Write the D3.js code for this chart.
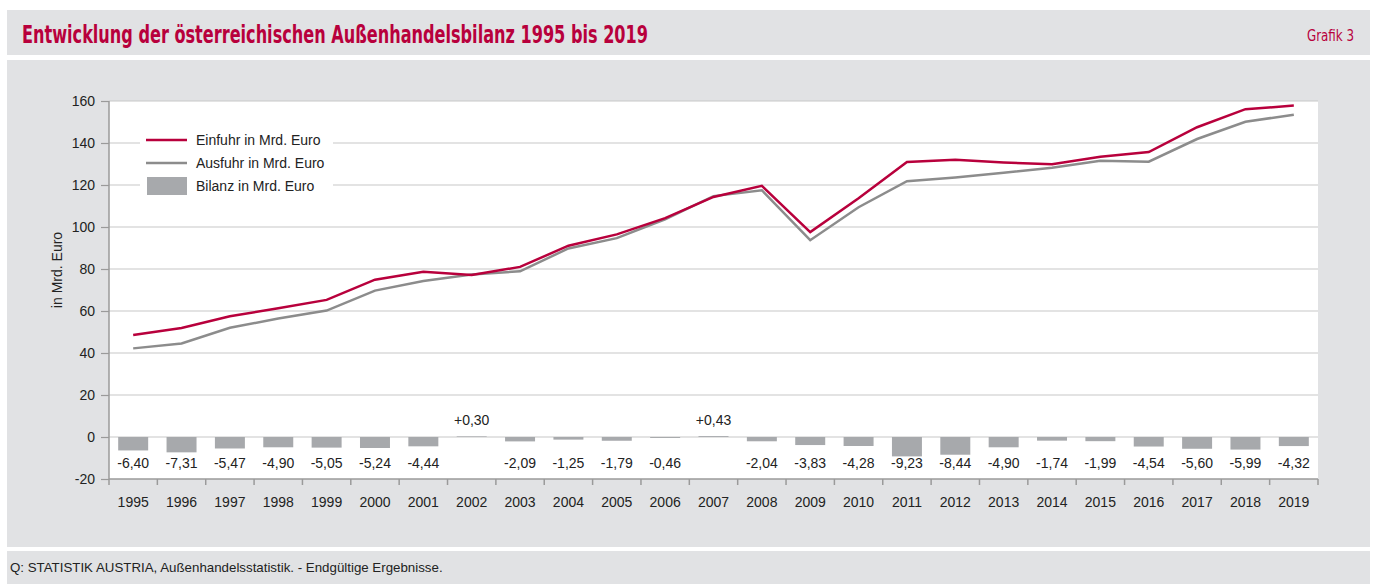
<!DOCTYPE html>
<html>
<head>
<meta charset="utf-8">
<script src="https://cdn.jsdelivr.net/npm/d3@7/dist/d3.min.js"></script>
<style>
  body { margin: 0; background: #fff; }
  svg { display: block; font-family: "Liberation Sans", Arial, sans-serif; }
</style>
</head>
<body>
<svg id="chart" width="1374" height="584"></svg>
<script>
// Values (Mrd. Euro)
const years = ["1995","1996","1997","1998","1999","2000","2001","2002","2003","2004","2005","2006","2007",
               "2008","2009","2010","2011","2012","2013","2014","2015","2016","2017","2018","2019"];
const einfuhr = [48.6, 51.9, 57.5, 61.3, 65.3, 74.9, 78.7, 77.1, 81.0, 91.1, 96.5, 104.2, 114.3,
                 119.6, 97.6, 113.7, 131.0, 132.0, 130.7, 129.9, 133.5, 135.7, 147.5, 156.1, 157.8];
const ausfuhr = [42.2, 44.5, 52.0, 56.4, 60.2, 69.7, 74.3, 77.4, 78.9, 89.8, 94.7, 103.7, 114.7,
                 117.5, 93.7, 109.4, 121.8, 123.6, 125.8, 128.2, 131.5, 131.1, 141.9, 150.1, 153.5];
const bilanz = [-6.40, -7.31, -5.47, -4.90, -5.05, -5.24, -4.44, 0.30, -2.09, -1.25, -1.79, -0.46, 0.43,
                -2.04, -3.83, -4.28, -9.23, -8.44, -4.90, -1.74, -1.99, -4.54, -5.60, -5.99, -4.32];
const yTicks = [-20, 0, 20, 40, 60, 80, 100, 120, 140, 160];

const red = "#b8003c";
const grey = "#8c8c8c";
const barGrey = "#a7a9ac";
const panel = "#e1e2e4";

const svg = d3.select("#chart");

// Background bands
svg.append("rect").attr("x", 7).attr("y", 10).attr("width", 1363).attr("height", 45).attr("fill", panel);
svg.append("rect").attr("x", 7).attr("y", 60).attr("width", 1363).attr("height", 487).attr("fill", panel);
svg.append("rect").attr("x", 7).attr("y", 551).attr("width", 1363).attr("height", 33).attr("fill", panel);

// Title + tag (condensed look: squeeze to the reference width)
svg.append("text")
    .attr("x", 22).attr("y", 43)
    .attr("font-family", "'DejaVu Sans Condensed', 'Liberation Sans', sans-serif")
    .attr("font-weight", "bold")
    .attr("font-size", "25px")
    .attr("textLength", 626)
    .attr("lengthAdjust", "spacingAndGlyphs")
    .attr("fill", red)
    .text("Entwicklung der österreichischen Außenhandelsbilanz 1995 bis 2019");
svg.append("text")
    .attr("x", 1307).attr("y", 41)
    .attr("font-family", "'DejaVu Sans Condensed', 'Liberation Sans', sans-serif")
    .attr("font-size", "16px")
    .attr("textLength", 47)
    .attr("lengthAdjust", "spacingAndGlyphs")
    .attr("fill", red)
    .text("Grafik 3");

// Footer
svg.append("text")
    .attr("x", 10).attr("y", 572)
    .attr("font-size", "13.3px")
    .attr("fill", "#222")
    .text("Q: STATISTIK AUSTRIA, Außenhandelsstatistik. - Endgültige Ergebnisse.");

// Plot area
const plotLeft = 109, plotRight = 1318, plotTop = 101, plotBottom = 479;
const x = d3.scaleBand().domain(years).range([plotLeft, plotRight]).paddingInner(0.38).paddingOuter(0.19);
const xBand = d3.scaleBand().domain(years).range([plotLeft, plotRight]);
const y = d3.scaleLinear().domain([-20, 160]).range([plotBottom, plotTop]);

svg.append("rect").attr("x", plotLeft).attr("y", plotTop)
    .attr("width", plotRight - plotLeft).attr("height", plotBottom - plotTop).attr("fill", "#fff");

// Gridlines
svg.append("g").selectAll("line")
    .data(yTicks.filter(d => d > -20))
    .enter().append("line")
    .attr("x1", plotLeft).attr("x2", plotRight)
    .attr("y1", d => y(d)).attr("y2", d => y(d))
    .attr("stroke", "#c8c8c8").attr("stroke-width", 1.2);

// Bars
svg.append("g").selectAll("rect")
    .data(bilanz)
    .enter().append("rect")
    .attr("x", (d, i) => x(years[i]))
    .attr("width", x.bandwidth())
    .attr("y", d => y(Math.max(0, d)))
    .attr("height", d => Math.abs(y(d) - y(0)))
    .attr("fill", barGrey);

// Bar labels
const fmt = d => (d > 0 ? "+" : "") + d.toFixed(2).replace(".", ",");
svg.append("g").selectAll("text")
    .data(bilanz)
    .enter().append("text")
    .attr("x", (d, i) => xBand(years[i]) + xBand.bandwidth() / 2)
    .attr("y", d => d > 0 ? y(5.6) : y(-14.6))
    .attr("text-anchor", "middle")
    .attr("font-size", "14px")
    .attr("fill", "#222")
    .text(d => fmt(d));

// Lines
const line = d3.line()
    .x((d, i) => xBand(years[i]) + xBand.bandwidth() / 2)
    .y(d => y(d));
svg.append("path").datum(ausfuhr).attr("d", line)
    .attr("fill", "none").attr("stroke", grey).attr("stroke-width", 2.5);
svg.append("path").datum(einfuhr).attr("d", line)
    .attr("fill", "none").attr("stroke", red).attr("stroke-width", 2.5);

// Axes
const yAxis = svg.append("g")
    .attr("transform", `translate(${plotLeft},0)`)
    .call(d3.axisLeft(y).tickValues(yTicks).tickFormat(d => String(d)).tickSize(8).tickPadding(6));
const xAxis = svg.append("g")
    .attr("transform", `translate(0,${plotBottom})`)
    .call(d3.axisBottom(xBand).tickSize(0).tickPadding(18));
// boundary ticks between years
svg.append("g").selectAll("line")
    .data(years.concat(["end"]))
    .enter().append("line")
    .attr("x1", (d, i) => plotLeft + i * xBand.step())
    .attr("x2", (d, i) => plotLeft + i * xBand.step())
    .attr("y1", plotBottom).attr("y2", plotBottom + 6)
    .attr("stroke", "#9a9a9a").attr("stroke-width", 1.5);

[yAxis, xAxis].forEach(g => {
    g.selectAll(".domain").attr("stroke", "#9a9a9a").attr("stroke-width", 1.5);
    g.selectAll(".tick line").attr("stroke", "#9a9a9a").attr("stroke-width", 1.2);
    g.selectAll("text").attr("font-size", "14px").attr("fill", "#222")
        .attr("font-family", "'Liberation Sans', Arial, sans-serif");
});
yAxis.select(".domain").attr("d", `M0,${plotTop}V${plotBottom}`);
xAxis.select(".domain").attr("d", `M${plotLeft},0H${plotRight}`);

// Y axis title
svg.append("text")
    .attr("transform", "translate(62,270) rotate(-90)")
    .attr("text-anchor", "middle")
    .attr("font-size", "14px")
    .attr("fill", "#222")
    .text("in Mrd. Euro");

// Legend
const legend = svg.append("g");
legend.append("rect").attr("x", 140).attr("y", 129).attr("width", 193).attr("height", 72).attr("fill", "#fff");
const legendItems = [
    { label: "Einfuhr in Mrd. Euro", type: "line", color: red },
    { label: "Ausfuhr in Mrd. Euro", type: "line", color: grey },
    { label: "Bilanz in Mrd. Euro", type: "bar", color: barGrey }
];
legendItems.forEach((item, i) => {
    const cy = 140 + i * 23;
    if (item.type === "line") {
        legend.append("line").attr("x1", 146).attr("x2", 187).attr("y1", cy).attr("y2", cy)
            .attr("stroke", item.color).attr("stroke-width", 2.5);
    } else {
        legend.append("rect").attr("x", 147).attr("y", cy - 9).attr("width", 40).attr("height", 18)
            .attr("fill", item.color);
    }
    legend.append("text").attr("x", 196).attr("y", cy + 5)
        .attr("font-size", "14px").attr("fill", "#222").text(item.label);
});
</script>
</body>
</html>
